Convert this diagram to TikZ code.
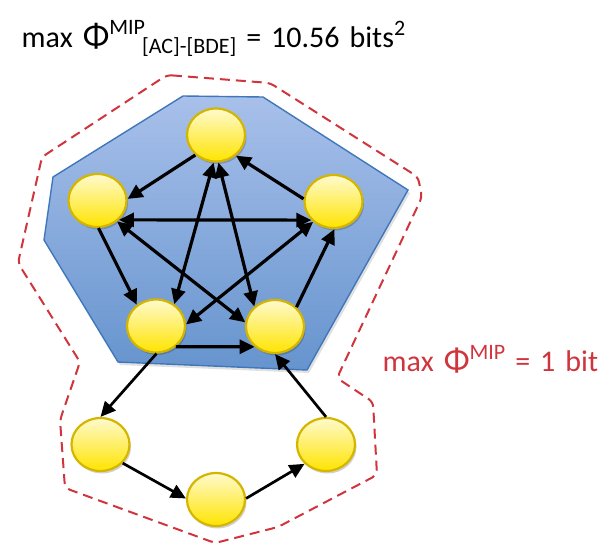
\documentclass[tikz,border=0pt]{standalone}
\usepackage{fontspec}
\setmainfont{Carlito}
\usetikzlibrary{arrows.meta,shapes.geometric,shadows}
\definecolor{nodetop}{RGB}{255,250,205}
\definecolor{nodebot}{RGB}{255,228,0}
\definecolor{nodeborder}{RGB}{212,182,0}
\definecolor{polytop}{RGB}{168,192,234}
\definecolor{polybot}{RGB}{102,148,206}
\definecolor{polyborder}{RGB}{64,118,186}
\definecolor{dashred}{RGB}{208,52,60}
\newcommand{\fs}[1]{\fontsize{#1}{#1}\selectfont}
\tikzset{
  unit/.style={ellipse, draw=nodeborder, line width=2.2pt, top color=nodetop, bottom color=nodebot,
    minimum width=58pt, minimum height=53pt, inner sep=0pt,
    drop shadow={shadow xshift=1.5pt, shadow yshift=-2.5pt, opacity=0.18, fill=black}},
  arr/.style={line width=3.2pt, -{Triangle[length=15pt,width=14pt]}},
  arrb/.style={line width=3.2pt, {Triangle[length=15pt,width=14pt]}-{Triangle[length=15pt,width=14pt]}},
  arrl/.style={line width=2.7pt, -{Triangle[length=15pt,width=14pt]}},
  label/.style={anchor=base west, inner sep=0pt},
}
\begin{document}
\begin{tikzpicture}[x=1pt,y=-1pt]
\useasboundingbox (0,0) rectangle (607,549);
% shadow of the complex
\fill[black, opacity=0.12]
  (185,99) -- (265,100) -- (410,193) -- (309,373) -- (120,365) -- (46,243) -- (55,180) -- cycle;
% complex polygon
\path[top color=polytop, bottom color=polybot, draw=polyborder, line width=1.4pt]
  (183,96) -- (263,97) -- (408,190) -- (307,370) -- (118,362) -- (44,240) -- (53,177) -- cycle;
% dashed outline
\draw[dashred, line width=2pt, dash pattern=on 10pt off 6pt, rounded corners=5pt]
  (167,75) -- (270,83) -- (418,177) -- (422,197) -- (337,378) -- (373,402) -- (377,475)
  -- (278,527) -- (215,543) -- (65,488) -- (60,420) -- (80,362) -- (18,263) -- (42,157) -- cycle;
% nodes
\node[unit] (A) at (216,135) {};
\node[unit] (B) at (97.5,200.5) {};
\node[unit] (C) at (333.5,201.5) {};
\node[unit] (D) at (156,326) {};
\node[unit] (E) at (275,326.5) {};
\node[unit] (F) at (100.5,444.5) {};
\node[unit] (G) at (216,499.5) {};
\node[unit] (H) at (326,444.5) {};
% connections
\draw[arr] (A.224) -- (B.3);
\draw[arr] (C.175) -- (A.-46);
\draw[arrb] (B.-42) -- (C.220);
\draw[arr] (B.-88) -- (D.132);
\draw[arrb] (B.-47) -- (E.172);
\draw[arrb] (A.-95) -- (D.50);
\draw[arrb] (A.-85) -- (E.136);
\draw[arrb] (C.225) -- (D.3);
\draw[arr] (E.42) -- (C.-88);
\draw[arr] (D.-46) -- (E.225);
\draw[arrl] (D.-89) -- (F.90);
\draw[arrl] (F.-40) -- (G.178);
\draw[arrl] (G.2) -- (H.222);
\draw[arrl] (H.90) -- (E.-90);
% labels
\node[label] (title) at (21.5,47)
  {\fs{30}\spaceskip=10pt max {\fs{35}Φ}\raisebox{12.7pt}{\fs{22}MIP}\hspace{-3pt}\raisebox{-6.3pt}{\fs{22}[AC]-[BDE]} = 10.56 bits\raisebox{11.4pt}{\fs{22}2}};
\node[label, text=dashred] (mip) at (382.5,371.7)
  {\fs{30}\spaceskip=10pt max {\fs{34}Φ}\raisebox{12pt}{\fs{22}MIP} = 1 bit};
\end{tikzpicture}
\end{document}
